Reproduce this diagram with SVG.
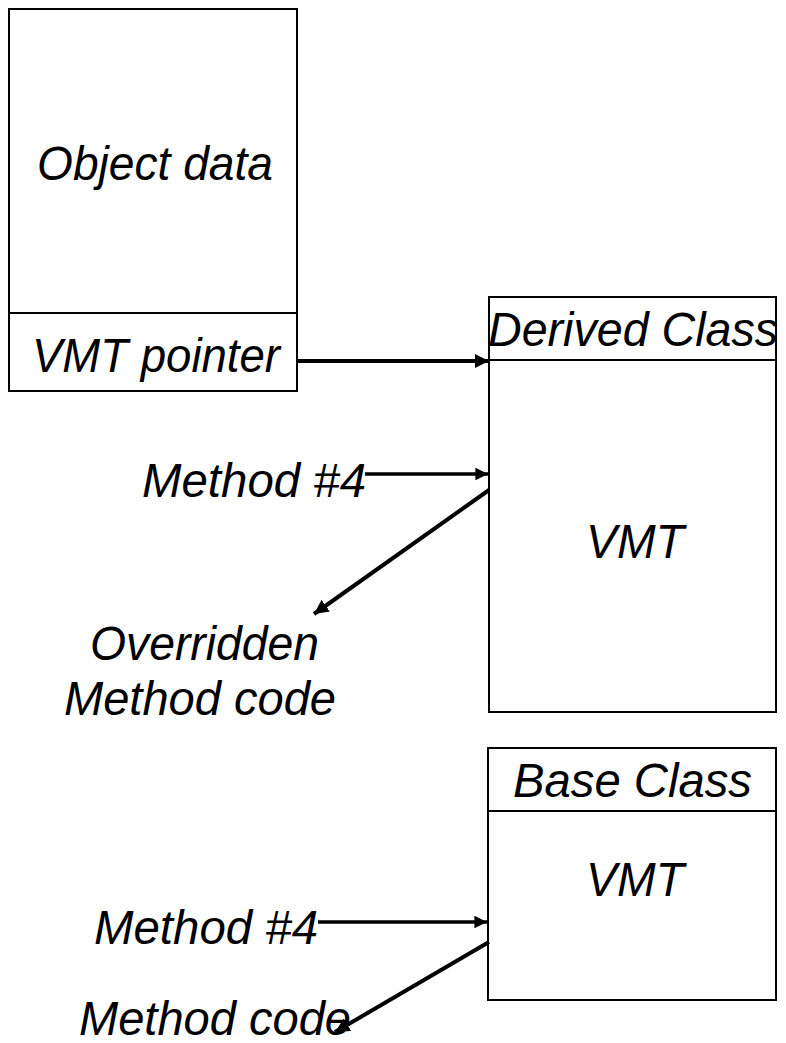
<svg xmlns="http://www.w3.org/2000/svg" width="786" height="1043" viewBox="0 0 786 1043">
  <style>
    .box { fill: #ffffff; stroke: #000000; stroke-width: 2; }
    .lbl { font-family: "Liberation Sans", Arial, sans-serif; font-style: italic; font-size: 48px; fill: #000000; }
    .link { stroke: #000000; stroke-width: 4; fill: none; marker-end: url(#head); }
  </style>
  <defs>
    <marker id="head" viewBox="0 0 10 10" refX="10" refY="5" markerWidth="3.6" markerHeight="3.6" orient="auto" markerUnits="strokeWidth">
      <path d="M0,0 L10,5 L0,10 Z" fill="#000000"/>
    </marker>
  </defs>
  <rect width="786" height="1043" fill="#ffffff"/>

  <!-- object instance: data area plus the VMT pointer slot -->
  <g id="object">
    <rect class="box" x="9" y="9" width="288" height="382"/>
    <line x1="9" y1="313" x2="297" y2="313" stroke="#000" stroke-width="2"/>
    <text class="lbl" x="37" y="180" textLength="236" lengthAdjust="spacingAndGlyphs">Object data</text>
    <text class="lbl" x="32" y="372" textLength="248" lengthAdjust="spacingAndGlyphs">VMT pointer</text>
  </g>

  <!-- derived class virtual method table -->
  <g id="derived-vmt">
    <rect class="box" x="489" y="297" width="287" height="415"/>
    <line x1="489" y1="360" x2="776" y2="360" stroke="#000" stroke-width="2"/>
    <text class="lbl" x="488" y="346" textLength="290" lengthAdjust="spacingAndGlyphs">Derived Class</text>
    <text class="lbl" x="586" y="558" textLength="98" lengthAdjust="spacingAndGlyphs">VMT</text>
  </g>

  <!-- base class virtual method table -->
  <g id="base-vmt">
    <rect class="box" x="488" y="748" width="288" height="252"/>
    <line x1="488" y1="811" x2="776" y2="811" stroke="#000" stroke-width="2"/>
    <text class="lbl" x="513" y="797" textLength="239" lengthAdjust="spacingAndGlyphs">Base Class</text>
    <text class="lbl" x="586" y="896" textLength="98" lengthAdjust="spacingAndGlyphs">VMT</text>
  </g>

  <g id="derived-method">
    <text class="lbl" x="142" y="497" textLength="224" lengthAdjust="spacingAndGlyphs">Method #4</text>
  </g>
  <g id="overridden-code">
    <text class="lbl" x="90" y="660" textLength="229" lengthAdjust="spacingAndGlyphs">Overridden</text>
    <text class="lbl" x="64" y="715" textLength="272" lengthAdjust="spacingAndGlyphs">Method code</text>
  </g>
  <g id="base-method">
    <text class="lbl" x="94" y="944" textLength="224" lengthAdjust="spacingAndGlyphs">Method #4</text>
  </g>
  <g id="base-code">
    <text class="lbl" x="79" y="1035" textLength="272" lengthAdjust="spacingAndGlyphs">Method code</text>
  </g>

  <g id="connectors">
    <line class="link" x1="297" y1="361" x2="489" y2="361"/>
    <line class="link" x1="365" y1="474" x2="488" y2="474" style="stroke-width:3.5"/>
    <line class="link" x1="489" y1="490" x2="314" y2="614"/>
    <line class="link" x1="318" y1="922" x2="487" y2="922" style="stroke-width:3.5"/>
    <line class="link" x1="489" y1="942" x2="335" y2="1032"/>
  </g>
</svg>
